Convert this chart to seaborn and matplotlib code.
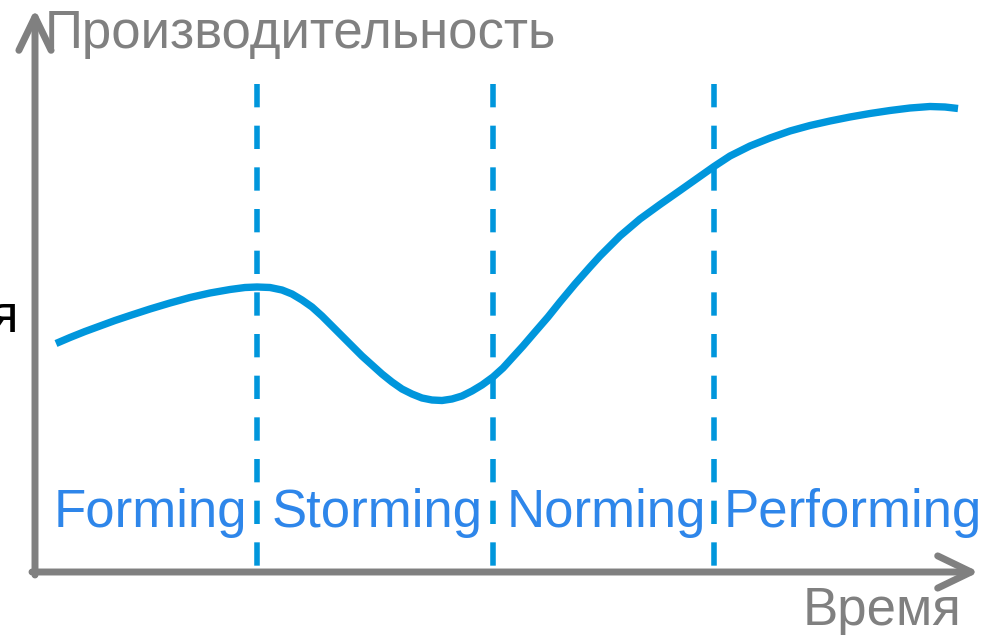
import matplotlib
matplotlib.use("Agg")
import matplotlib.pyplot as plt
import seaborn as sns
import pandas as pd

# Team performance over time (Tuckman stages)
time_pts = [21, 35, 50, 65, 80, 95, 115, 135, 155, 175,
            195, 210, 222, 235, 247, 257, 267, 277, 287, 297,
            307, 317, 327, 337, 347, 357, 367, 377, 387, 397,
            407, 417, 427, 437, 447, 458, 468, 478, 488, 500,
            513, 525, 540, 555, 565, 585, 605, 625, 645, 662,
            679, 695, 715, 735, 755, 775, 795, 815, 835, 855,
            875, 895, 910, 923]
performance = [228.5, 234.5, 240.5, 246, 251.5, 256.5, 263, 269, 274.5, 279,
               282.5, 284.5, 285, 284.5, 282, 278, 272, 265, 256, 246,
               236, 226, 216, 207, 198, 190, 183, 178, 174, 172,
               171.5, 173, 176, 181, 187, 195, 204, 215, 226, 240,
               255, 270, 288, 305, 316, 336, 353, 367.5, 381.5, 393.5,
               405.5, 416, 426, 434, 441, 446.5, 451, 455, 458.5, 461.5,
               464, 465.5, 465, 463.5]

stage_names = ["Forming", "Storming", "Norming", "Performing"]
stage_label_x = [19, 237, 472, 689]
stage_bounds = [222, 458, 679]

y_label = "Производительность"
x_label = "Время"

sns.set_theme(style="white")
plt.rcParams["font.family"] = ["Liberation Sans", "DejaVu Sans"]

GRAY = "#808080"
CURVE = "#0096DC"
TEXT_BLUE = "#2E86EA"

fig = plt.figure(figsize=(10.01, 6.35), dpi=100)
ax = fig.add_axes([0, 0, 1, 1])

# Stage boundaries
for xb in stage_bounds:
    ax.plot([xb, xb], [488, 0], color=CURVE, lw=4, dashes=(4.2, 3.3),
            solid_capstyle="butt", zorder=2)

# Performance curve
df = pd.DataFrame({"t": time_pts, "p": performance})
sns.lineplot(data=df, x="t", y="p", ax=ax, color=CURVE, lw=5.3, sort=False,
             zorder=3)
ax.lines[-1].set_solid_joinstyle("round")
ax.lines[-1].set_solid_capstyle("butt")
ax.set_xlim(-35, 966)
ax.set_ylim(-63, 572)
ax.axis("off")

# Axes with open arrowheads
arrow_kw = dict(arrowstyle="->,head_length=1.2,head_width=0.58", lw=5,
                color=GRAY, shrinkA=0, shrinkB=0, mutation_scale=20,
                capstyle="round", joinstyle="round")
ax.annotate("", xy=(0, 563), xytext=(0, -3), arrowprops=arrow_kw, zorder=4)
ax.annotate("", xy=(944, 0), xytext=(-3, 0), arrowprops=arrow_kw, zorder=4)

ax.text(10, 524, y_label, fontsize=38, color=GRAY, ha="left", va="baseline")
ax.text(768, -53, x_label, fontsize=38, color=GRAY, ha="left", va="baseline")
ax.text(-17, 240, "я", fontsize=38, color="black", ha="right", va="baseline")

for name, lx in zip(stage_names, stage_label_x):
    ax.text(lx, 45, name, fontsize=38, color=TEXT_BLUE, ha="left",
            va="baseline", zorder=5)

fig.savefig("out.png", dpi=100, facecolor="white")
